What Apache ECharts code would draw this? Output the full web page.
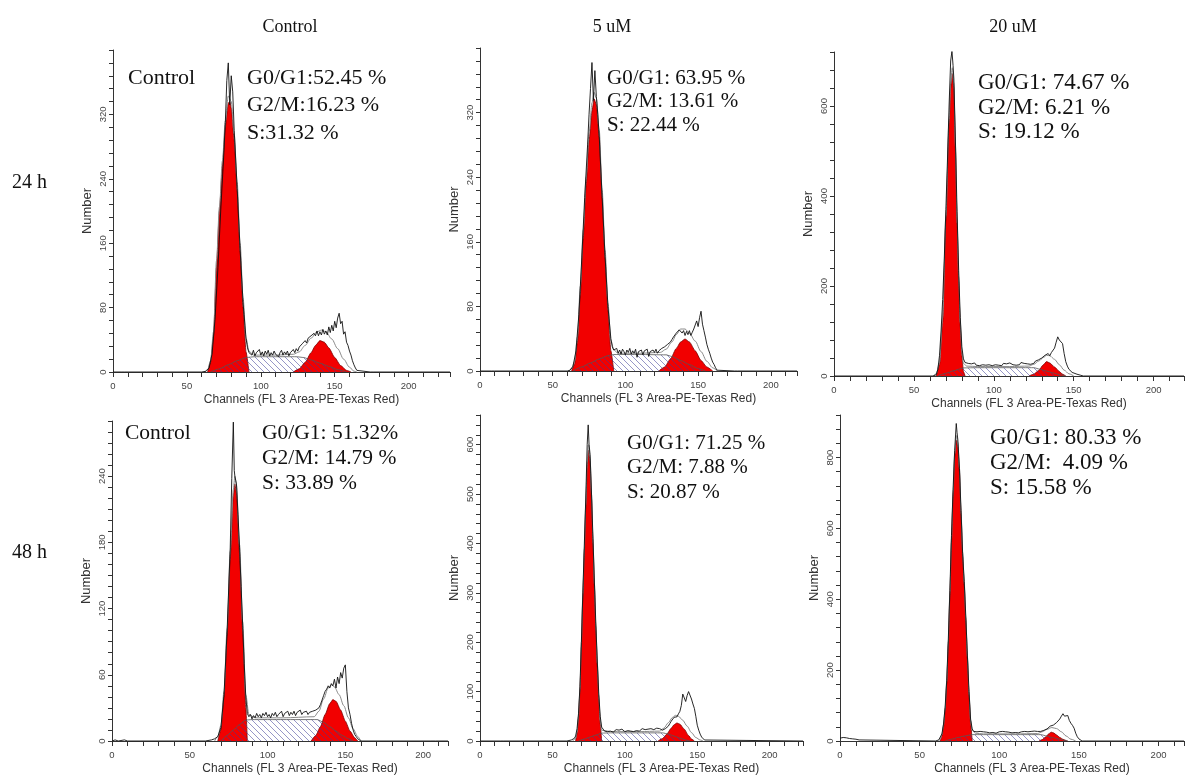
<!DOCTYPE html>
<html><head><meta charset="utf-8">
<script src="https://cdn.jsdelivr.net/npm/echarts@6/dist/echarts.min.js"></script>
<style>html,body{margin:0;padding:0;background:#fff}#c{width:1187px;height:776px}</style>
</head><body><div id="c"></div>
<script>
// ---------- text ----------
const colTitles = ['Control', '5 uM', '20 uM'];
const rowTitles = ['24 h', '48 h'];
const xName = 'Channels (FL 3 Area-PE-Texas Red)';
const yName = 'Number';
const xTicks = [0, 50, 100, 150, 200];

const p1Text = ['G0/G1:52.45 %', 'G2/M:16.23 %', 'S:31.32 %'];
const p2Text = ['G0/G1: 63.95 %', 'G2/M: 13.61 %', 'S: 22.44 %'];
const p3Text = ['G0/G1: 74.67 %', 'G2/M: 6.21 %', 'S: 19.12 %'];
const p4Text = ['G0/G1: 51.32%', 'G2/M: 14.79 %', 'S: 33.89 %'];
const p5Text = ['G0/G1: 71.25 %', 'G2/M: 7.88 %', 'S: 20.87 %'];
const p6Text = ['G0/G1: 80.33 %', 'G2/M:  4.09 %', 'S: 15.58 %'];

// ---------- y tick labels ----------
const p1YTicks = [0, 80, 160, 240, 320];
const p2YTicks = [0, 80, 160, 240, 320];
const p3YTicks = [0, 200, 400, 600];
const p4YTicks = [0, 60, 120, 180, 240];
const p5YTicks = [0, 100, 200, 300, 400, 500, 600];
const p6YTicks = [0, 200, 400, 600, 800];

// ---------- panel 1 : 24 h Control ----------
const p1Raw = [[0,0],[6,0],[7,2],[8,0],[60,0],[63,1],[65,5],[67,22],[69,65],[71,130],[73,205],[75,272],[76,310],[77,362],[78,384],[79,332],[80,368],[81,348],[82,300],[84,228],[86,152],[88,86],[90,42],[91,30],[92,24],[93,26],[94,21],[95,27],[96,20],[97,24],[98,22],[99,28],[100,21],[101,25],[102,20],[103,26],[104,22],[105,27],[106,20],[107,24],[108,21],[109,26],[110,22],[111,24],[112,19],[113,24],[114,27],[115,21],[116,25],[117,22],[118,26],[119,20],[120,24],[121,23],[122,28],[123,24],[124,29],[125,26],[126,31],[127,29],[128,35],[129,33],[130,39],[131,36],[132,42],[133,40],[134,45],[135,43],[136,48],[137,45],[138,51],[139,45],[140,50],[141,46],[142,53],[143,47],[144,51],[145,46],[146,56],[147,49],[148,58],[149,51],[150,63],[151,55],[152,67],[153,73],[154,60],[155,63],[156,47],[157,50],[158,37],[159,33],[160,26],[161,21],[162,14],[163,9],[164,5],[165,2],[166,0],[174,0],[175,2],[176,0],[228,0]];
const p1G1 = [[64,0],[66,12],[68,45],[70,130],[72,200],[74,255],[76,305],[78,334],[79,336],[80,328],[82,288],[84,225],[86,150],[88,80],[90,25],[92,0]];
const p1G2 = [[122,0],[126,4],[130,12],[134,24],[137,33],[140,39],[143,37],[146,30],[150,18],[154,8],[158,2],[161,0]];
const p1S = [[66,0],[72,4],[78,9],[84,14],[90,18],[96,19],[110,19],[124,19],[129,18],[134,15],[140,11],[146,7],[152,3],[158,0]];
const p1Fit = [[62,0],[64,3],[66,14],[68,50],[70,138],[72,205],[74,262],[76,312],[78,343],[80,336],[82,296],[84,236],[86,160],[88,92],[90,42],[92,26],[95,21],[110,21],[122,22],[126,25],[130,33],[134,42],[138,50],[141,52],[144,50],[148,41],[152,29],[156,16],[160,6],[163,1],[165,0]];

// ---------- panel 2 : 24 h 5 uM ----------
const p2Raw = [[0,0],[8,0],[9,2],[10,0],[60,0],[62,1],[64,6],[66,25],[68,70],[70,140],[72,215],[74,280],[75,318],[76,350],[77,382],[78,335],[79,372],[80,340],[81,318],[82,290],[84,215],[86,142],[88,80],[90,40],[91,30],[92,26],[93,24],[94,28],[95,22],[96,26],[97,21],[98,27],[99,24],[100,20],[101,26],[102,23],[103,28],[104,21],[105,25],[106,22],[107,27],[108,17],[109,24],[110,22],[111,26],[112,20],[113,25],[114,23],[115,27],[116,18],[117,24],[118,22],[119,26],[120,23],[121,27],[122,22],[123,25],[124,24],[125,28],[126,26],[127,30],[128,29],[129,33],[130,32],[131,36],[132,39],[133,42],[134,44],[135,47],[136,49],[137,51],[138,52],[139,47],[140,50],[141,44],[142,49],[143,45],[144,50],[145,44],[146,48],[147,52],[148,57],[149,62],[150,55],[151,66],[152,74],[153,58],[154,50],[155,42],[156,33],[157,27],[158,22],[159,16],[160,11],[161,8],[162,4],[163,1],[164,0],[175,0],[176,2],[177,0],[218,0]];
const p2G1 = [[63,0],[65,8],[67,35],[69,95],[71,165],[73,230],[75,285],[77,322],[78.5,337],[80,330],[82,290],[84,215],[86,140],[88,75],[90,25],[92,0]];
const p2G2 = [[123,0],[127,5],[131,15],[135,28],[138,36],[141,39.6],[144,36],[148,25],[152,13],[156,5],[160,0]];
const p2S = [[64,0],[70,5],[76,10],[82,15],[88,19],[92,20.4],[110,20.4],[128,20],[132,18],[138,13],[144,8],[150,3],[155,0]];
const p2Fit = [[61,0],[63,3],[65,12],[67,42],[69,105],[71,175],[73,240],[75,295],[77,332],[78.5,345],[80,338],[82,298],[84,224],[86,150],[88,84],[90,38],[92,26],[95,22],[110,22],[124,23],[128,27],[132,36],[135,45],[138,52],[141,52],[144,47],[148,37],[152,24],[156,12],[160,4],[163,0]];

// ---------- panel 3 : 24 h 20 uM ----------
const p3Raw = [[0,0],[62,0],[64,3],[65,15],[66,45],[67,100],[68,170],[69,260],[70,370],[71,480],[72,600],[73,700],[73.8,722],[74.5,690],[75,660],[76,520],[77,365],[78,235],[79,130],[80,65],[81,38],[82,30],[83,26],[84,28],[85,24],[86,27],[87,25],[88,29],[89,24],[90,26],[91,23],[92,27],[93,25],[94,28],[95,24],[96,26],[97,25],[98,28],[99,23],[100,27],[101,25],[102,29],[103,24],[104,26],[105,23],[106,28],[107,25],[108,27],[109,24],[110,29],[111,26],[112,25],[113,28],[114,24],[115,27],[116,25],[117,30],[118,26],[119,28],[120,25],[121,27],[122,29],[123,26],[124,30],[125,28],[126,33],[127,31],[128,36],[129,34],[130,40],[131,44],[132,46],[133,47],[134,50],[135,45],[136,52],[137,56],[138,62],[139,75],[140,87],[141,80],[142,84],[143,72],[144,50],[145,32],[146,22],[147,15],[148,11],[149,8],[150,6],[152,4],[154,2],[156,0],[219,0]];
const p3G1 = [[64,0],[66,25],[68,120],[70,345],[72,560],[73,640],[74,672],[75,640],[76,500],[77,340],[78,210],[79,110],[80,45],[81,10],[82,0]];
const p3G2 = [[122,0],[125,4],[128,12],[131,25],[133,32],[135,29],[138,20],[141,10],[143,4],[145,0]];
const p3S = [[65,0],[70,6],[75,12],[81,18],[90,18.5],[110,18.5],[125,18.5],[129,15],[133,11],[137,7],[141,3],[145,0]];
const p3Fit = [[62,0],[64,5],[66,30],[68,130],[70,355],[72,570],[73,650],[74,685],[75,650],[76,510],[77,350],[78,220],[79,120],[80,55],[81,28],[83,22],[90,21],[110,21],[122,22],[125,26],[128,33],[131,41],[133,46],[135,45],[138,37],[141,25],[144,13],[147,5],[150,0]];

// ---------- panel 4 : 48 h Control ----------
const p4Raw = [[0,0],[2,1],[4,0],[8,1],[10,0],[60,0],[64,1],[66,2],[68,4],[70,12],[72,42],[74,100],[76,175],[77,238],[78,289],[78.6,245],[79,240],[80,233],[81,205],[82,175],[83,140],[84,105],[85,70],[86,40],[87,25],[88,22],[89,24],[90,20],[91,23],[92,21],[93,25],[94,22],[95,24],[96,21],[97,25],[98,23],[99,26],[100,22],[101,24],[102,21],[103,25],[104,23],[105,26],[106,22],[107,24],[108,23],[109,27],[110,22],[111,25],[112,24],[113,27],[114,23],[115,26],[116,24],[117,27],[118,23],[119,26],[120,25],[121,28],[122,24],[123,26],[124,25],[125,27],[126,24],[127,26],[128,25],[129,27],[130,26],[131,28],[132,27],[133,30],[134,33],[135,37],[136,41],[137,45],[138,47],[139,50],[140,48],[141,52],[142,50],[143,56],[144,48],[145,58],[146,52],[147,62],[148,57],[149,66],[150,69],[151,45],[152,30],[153,24],[154,16],[155,10],[156,6],[157,4],[158,2],[160,0],[205,0],[206,1],[208,0],[216,0]];
const p4G1 = [[68,0],[70,10],[72,40],[74,95],[76,165],[78,222],[79,233],[80,225],[82,170],[84,100],[86,30],[87,0]];
const p4G2 = [[128,0],[131,5],[134,13],[137,24],[140,34],[142,37.5],[144,36],[147,28],[150,18],[153,9],[156,3],[158,0]];
const p4S = [[70,0],[74,5],[78,10],[82,15],[86,19],[90,19.4],[110,19.4],[132,19.4],[136,17],[140,13],[144,9],[148,5],[152,2],[155,0]];
const p4Fit = [[66,0],[68,4],[70,14],[72,45],[74,102],[76,172],[78,228],[79,240],[80,232],[82,178],[84,108],[86,42],[88,24],[92,21],[110,21],[130,22],[133,27],[136,38],[139,48],[141,51],[143,49],[146,42],[149,32],[152,21],[155,11],[158,4],[160,0]];

// ---------- panel 5 : 48 h 5 uM ----------
const p5Raw = [[0,0],[14,0],[15,3],[16,0],[60,0],[63,2],[65,5],[66,10],[67,25],[68,55],[69,110],[70,200],[71,300],[72,395],[73,490],[74,600],[74.7,640],[75.3,600],[76,580],[77,500],[78,410],[79,320],[80,235],[81,160],[82,95],[83,50],[84,28],[85,24],[86,20],[87,23],[88,19],[89,22],[90,20],[91,24],[92,18],[93,21],[94,23],[95,19],[96,22],[97,20],[98,24],[99,21],[100,19],[101,23],[102,21],[103,25],[104,20],[105,22],[106,19],[107,23],[108,21],[109,24],[110,20],[111,22],[112,25],[113,21],[114,23],[115,20],[116,24],[117,22],[118,25],[119,21],[120,23],[121,22],[122,26],[123,23],[124,25],[125,24],[126,22],[127,20],[128,25],[129,23],[130,30],[131,35],[132,40],[133,44],[134,48],[135,52],[136,49],[137,55],[138,60],[139,72],[140,95],[141,99],[142,80],[143,92],[144,100],[145,103],[146,85],[147,75],[148,66],[149,50],[150,32],[151,22],[152,14],[153,8],[154,4],[155,2],[156,0],[223,0]];
const p5G1 = [[66,0],[67,15],[68,45],[69,100],[70,190],[71,290],[72,380],[73,470],[74,555],[75,589],[76,565],[77,490],[78,400],[79,310],[80,225],[81,150],[82,85],[83,35],[84,0]];
const p5G2 = [[123,0],[126,5],[129,14],[132,26],[134,33],[136,36.5],[138,34],[141,24],[144,11],[146,4],[148,0]];
const p5S = [[68,0],[72,4],[76,8],[80,12],[84,16],[90,16.5],[110,16.5],[126,16.5],[130,14],[134,10],[138,6],[142,2],[145,0]];
const p5Fit = [[64,0],[66,5],[67,18],[68,50],[69,105],[70,200],[71,298],[72,388],[73,478],[74,565],[75,600],[76,575],[77,498],[78,408],[79,318],[80,232],[81,158],[82,92],[83,42],[84,22],[90,19],[110,19],[124,20],[127,26],[130,37],[133,48],[135,52],[137,50],[140,42],[143,30],[146,17],[149,7],[152,2],[154,0]];

// ---------- panel 6 : 48 h 20 uM ----------
const p6Raw = [[0,8],[1,12],[2,10],[3,14],[4,9],[5,11],[6,7],[7,10],[8,6],[9,8],[10,5],[12,3],[13,0],[60,0],[62,3],[63,8],[64,20],[65,48],[66,95],[67,170],[68,285],[69,425],[70,580],[71,710],[72,820],[73,896],[73.5,870],[74,850],[75,770],[76,650],[77,530],[78,450],[79,350],[80,240],[81,140],[82,62],[83,34],[84,27],[85,24],[86,26],[87,23],[88,27],[89,24],[90,26],[91,22],[92,25],[93,27],[94,23],[95,26],[96,24],[97,27],[98,22],[99,25],[100,26],[101,23],[102,27],[103,24],[104,26],[105,22],[106,25],[107,27],[108,23],[109,26],[110,24],[111,27],[112,23],[113,25],[114,26],[115,24],[116,27],[117,23],[118,26],[119,25],[120,27],[121,24],[122,28],[123,25],[124,27],[125,29],[126,27],[127,24],[128,30],[129,28],[130,34],[131,38],[132,42],[133,40],[134,45],[135,48],[136,52],[137,57],[138,62],[139,70],[140,77],[141,70],[142,74],[143,72],[144,58],[145,50],[146,44],[147,36],[148,22],[149,12],[150,6],[151,2],[152,0],[216,0]];
const p6G1 = [[63,0],[64,15],[65,40],[66,85],[67,160],[68,270],[69,410],[70,560],[71,690],[72,800],[73,849],[74,830],[75,760],[76,640],[77,520],[78,440],[79,340],[80,230],[81,130],[82,50],[83,0]];
const p6G2 = [[125,0],[127,4],[129,11],[131,20],[132.6,25],[134,23],[136,17],[138,10],[140,5],[142,1],[143,0]];
const p6S = [[66,0],[70,5],[74,10],[78,14],[83,18],[90,18],[110,18],[126,18],[130,14],[134,9],[138,5],[141,2],[143,0]];
const p6Fit = [[62,0],[63,5],[64,18],[65,45],[66,92],[67,168],[68,280],[69,420],[70,570],[71,700],[72,810],[73,862],[74,842],[75,770],[76,650],[77,532],[78,450],[79,348],[80,238],[81,138],[82,58],[83,30],[85,22],[90,20],[110,20],[124,21],[127,26],[130,33],[133,38],[136,35],[139,26],[142,14],[145,5],[148,0]];

// ---------- assembling ----------
const panels = [
  {raw:p1Raw, g1:p1G1, g2:p1G2, s:p1S, fit:p1Fit, yTicks:p1YTicks, text:p1Text, label:'Control'},
  {raw:p2Raw, g1:p2G1, g2:p2G2, s:p2S, fit:p2Fit, yTicks:p2YTicks, text:p2Text, label:null},
  {raw:p3Raw, g1:p3G1, g2:p3G2, s:p3S, fit:p3Fit, yTicks:p3YTicks, text:p3Text, label:null},
  {raw:p4Raw, g1:p4G1, g2:p4G2, s:p4S, fit:p4Fit, yTicks:p4YTicks, text:p4Text, label:'Control'},
  {raw:p5Raw, g1:p5G1, g2:p5G2, s:p5S, fit:p5Fit, yTicks:p5YTicks, text:p5Text, label:null},
  {raw:p6Raw, g1:p6G1, g2:p6G2, s:p6S, fit:p6Fit, yTicks:p6YTicks, text:p6Text, label:null}
];

// layout (pixels) and axis extents
const layout = [
  {left:113, top:50,  width:337, height:322, xMax:228, yMax:400, yStep:16, tx:247, ty:78,  lh:27.5, fs:22, lx:128, ly:78},
  {left:480, top:48,  width:317, height:323, xMax:218, yMax:400, yStep:16, tx:607, ty:78,  lh:23.5, fs:21},
  {left:834, top:52,  width:353, height:324, xMax:219, yMax:720, yStep:40, tx:978, ty:83,  lh:24.5, fs:23},
  {left:112, top:421, width:336, height:320, xMax:216, yMax:290, yStep:10, tx:262, ty:433, lh:25,   fs:21.5, lx:125, ly:433},
  {left:480, top:415, width:323, height:326, xMax:223, yMax:660, yStep:20, tx:627, ty:443, lh:24.5, fs:21},
  {left:840, top:415, width:347, height:326, xMax:216, yMax:920, yStep:40, tx:990, ty:438, lh:25,   fs:23}
];

function hatchCanvas() {
  const c = document.createElement('canvas');
  c.width = 6; c.height = 6;
  const g = c.getContext('2d');
  g.strokeStyle = 'rgba(60,60,150,0.6)';
  g.lineWidth = 0.9;
  g.beginPath();
  for (let k = -1; k <= 1; k++) {
    g.moveTo(-1, -1 + 6 * k);
    g.lineTo(7, 7 + 6 * k);
  }
  g.stroke();
  return c;
}
const hatch = hatchCanvas();

const axisColor = '#333';
const labelColor = '#444';
const sans = '"Liberation Sans", Arial, sans-serif';
const serif = '"Liberation Serif", "Times New Roman", serif';

const grids = [], xAxes = [], yAxes = [], series = [], graphics = [];
panels.forEach((p, i) => {
  const L = layout[i];
  grids.push({left: L.left, top: L.top, width: L.width, height: L.height, containLabel: false});
  xAxes.push({
    type: 'value', gridIndex: i, min: 0, max: L.xMax, interval: 10,
    name: xName, nameLocation: 'middle', nameGap: 22,
    nameTextStyle: {fontFamily: sans, fontSize: 12, color: axisColor, padding: [0, 0, 0, 40]},
    axisLine: {show: true, onZero: false, lineStyle: {color: axisColor, width: 1}},
    axisTick: {show: true, inside: false, length: 5, lineStyle: {color: axisColor}},
    axisLabel: {fontFamily: sans, fontSize: 9.5, color: labelColor, margin: 9,
      formatter: v => (xTicks.indexOf(v) >= 0 ? String(v) : '')},
    splitLine: {show: false}
  });
  yAxes.push({
    type: 'value', gridIndex: i, min: 0, max: L.yMax, interval: L.yStep,
    name: yName, nameLocation: 'middle', nameGap: 19,
    nameTextStyle: {fontFamily: sans, fontSize: 13, color: axisColor},
    axisLine: {show: true, onZero: false, lineStyle: {color: axisColor, width: 1}},
    axisTick: {show: true, inside: false, length: 4, lineStyle: {color: axisColor}},
    axisLabel: {fontFamily: sans, fontSize: 9.5, color: labelColor, rotate: 90, margin: 5,
      formatter: v => (p.yTicks.indexOf(v) >= 0 ? String(v) : '')},
    splitLine: {show: false}
  });
  const common = {xAxisIndex: i, yAxisIndex: i, type: 'line', showSymbol: false, symbol: 'none', animation: false, silent: true};
  series.push(Object.assign({}, common, {
    name: 'G1-' + i, data: p.g1, smooth: 0.2, smoothMonotone: 'x', z: 2,
    lineStyle: {color: '#7a0000', width: 0.8}, areaStyle: {color: '#f20000', opacity: 1}
  }));
  series.push(Object.assign({}, common, {
    name: 'G2-' + i, data: p.g2, smooth: 0.2, smoothMonotone: 'x', z: 2,
    lineStyle: {color: '#7a0000', width: 0.8}, areaStyle: {color: '#f20000', opacity: 1}
  }));
  series.push(Object.assign({}, common, {
    name: 'S-' + i, data: p.s, smooth: 0.2, smoothMonotone: 'x', z: 3,
    lineStyle: {color: '#555', width: 0.8}, areaStyle: {color: {image: hatch, repeat: 'repeat'}, opacity: 1}
  }));
  series.push(Object.assign({}, common, {
    name: 'Fit-' + i, data: p.fit, smooth: 0.3, smoothMonotone: 'x', z: 4,
    lineStyle: {color: '#8a8a8a', width: 1}
  }));
  series.push(Object.assign({}, common, {
    name: 'Raw-' + i, data: p.raw, smooth: false, z: 5,
    lineStyle: {color: '#111', width: 0.9}
  }));
  p.text.forEach((t, k) => {
    graphics.push({type: 'text', x: L.tx, y: L.ty + k * L.lh, z: 10,
      style: {text: t, font: L.fs + 'px ' + serif, fill: '#111',
        textAlign: 'left', textVerticalAlign: 'middle', align: 'left', verticalAlign: 'middle'}});
  });
  if (p.label) {
    graphics.push({type: 'text', x: L.lx, y: L.ly, z: 10,
      style: {text: p.label, font: L.fs + 'px ' + serif, fill: '#111',
        textAlign: 'left', textVerticalAlign: 'middle', align: 'left', verticalAlign: 'middle'}});
  }
});

const colX = [290, 612, 1013];
colTitles.forEach((t, k) => {
  graphics.push({type: 'text', x: colX[k], y: 27,
    style: {text: t, font: '18px ' + serif, fill: '#111',
      textAlign: 'center', textVerticalAlign: 'middle', align: 'center', verticalAlign: 'middle'}});
});
const rowY = [183, 553];
rowTitles.forEach((t, k) => {
  graphics.push({type: 'text', x: 12, y: rowY[k],
    style: {text: t, font: '20px ' + serif, fill: '#111',
      textAlign: 'left', textVerticalAlign: 'middle', align: 'left', verticalAlign: 'middle'}});
});

const chart = echarts.init(document.getElementById('c'), null, {renderer: 'canvas'});
chart.setOption({
  animation: false,
  backgroundColor: '#fff',
  grid: grids, xAxis: xAxes, yAxis: yAxes, series: series, graphic: graphics
});
</script>
</body></html>
